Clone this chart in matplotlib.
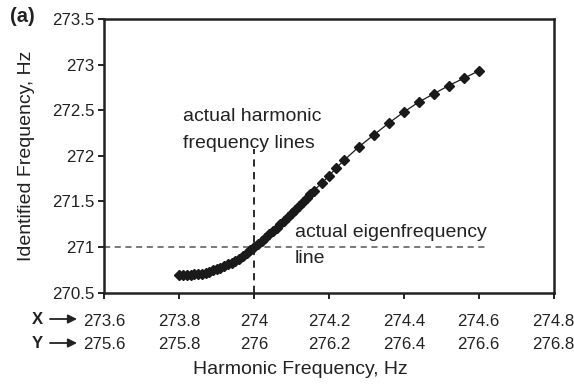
import matplotlib
matplotlib.use("Agg")
import matplotlib.pyplot as plt

plt.rcParams["font.family"] = ["Liberation Sans", "DejaVu Sans"]

# harmonic frequency (x) vs identified frequency
harmonic = [
    273.80, 273.81, 273.82, 273.83, 273.84, 273.85, 273.86, 273.87, 273.88, 273.89,
    273.90, 273.91, 273.92, 273.93, 273.94, 273.95, 273.96, 273.97, 273.98, 273.99,
    274.00, 274.01, 274.02, 274.03, 274.04, 274.05, 274.06, 274.07, 274.08, 274.09,
    274.10, 274.11, 274.12, 274.13, 274.14, 274.15, 274.16,
    274.18, 274.20, 274.22, 274.24,
    274.28, 274.32, 274.36, 274.40, 274.44, 274.48, 274.52, 274.56, 274.60,
]
identified = [
    270.69, 270.69, 270.69, 270.69, 270.70, 270.70, 270.71, 270.72, 270.73, 270.745,
    270.76, 270.775, 270.79, 270.81, 270.83, 270.85, 270.87, 270.90, 270.93, 270.965,
    271.00, 271.035, 271.07, 271.105, 271.14, 271.175, 271.21, 271.25, 271.29, 271.33,
    271.37, 271.41, 271.45, 271.495, 271.54, 271.58, 271.62,
    271.70, 271.78, 271.87, 271.95,
    272.10, 272.23, 272.36, 272.48, 272.59, 272.68, 272.77, 272.85, 272.93,
]

x_ticks = [273.6, 273.8, 274.0, 274.2, 274.4, 274.6, 274.8]
x_labels = ["273.6", "273.8", "274", "274.2", "274.4", "274.6", "274.8"]
y_labels_second = ["275.6", "275.8", "276", "276.2", "276.4", "276.6", "276.8"]
y_ticks = [270.5, 271, 271.5, 272, 272.5, 273, 273.5]
y_ticklabels = ["270.5", "271", "271.5", "272", "272.5", "273", "273.5"]

harmonic_line = 274.0
eigen_line = 271.0

fig = plt.figure(figsize=(5.74, 3.86), dpi=100)
ax = fig.add_axes([0.182, 0.2417, 0.7823, 0.7091])

ax.plot(harmonic, identified, color="#1a1a1a", lw=0.9, marker="D",
        markersize=5.5, markerfacecolor="#1a1a1a", markeredgecolor="#1a1a1a", zorder=3)

# reference lines
ax.plot([harmonic_line, harmonic_line], [270.5, 272.07], color="#1a1a1a",
        lw=1.3, ls=(0, (4, 3)), zorder=2)
ax.plot([273.6, 274.626], [eigen_line, eigen_line], color="#555555",
        lw=1.1, ls=(0, (4, 3)), zorder=2)

ax.text(273.809, 272.43, "actual harmonic", fontsize=14, color="#222222", va="center")
ax.text(273.809, 272.14, "frequency lines", fontsize=14, color="#222222", va="center")
ax.text(274.108, 271.16, "actual eigenfrequency", fontsize=14, color="#222222", va="center")
ax.text(274.108, 270.87, "line", fontsize=14, color="#222222", va="center")

ax.set_xlim(273.6, 274.8)
ax.set_ylim(270.5, 273.5)
ax.set_xticks(x_ticks)
ax.set_xticklabels([f"{a}\n{b}" for a, b in zip(x_labels, y_labels_second)],
                   linespacing=1.7)
ax.set_yticks(y_ticks)
ax.set_yticklabels(y_ticklabels)
ax.tick_params(direction="out", length=4, width=1.4, colors="#222222",
               labelsize=12.2, labelcolor="#222222", pad=3)
ax.tick_params(axis="x", pad=11)

for s in ax.spines.values():
    s.set_linewidth(1.8)
    s.set_color("#222222")

fig.text(27 / 574, 1 - 156 / 386, "Identified Frequency, Hz", fontsize=14,
         color="#222222", ha="center", va="center", rotation=90)
fig.text(300 / 574, 1 - 370 / 386, "Harmonic Frequency, Hz", fontsize=14,
         color="#222222", ha="center", va="center")

# row markers for the two harmonic scales
for label, ypix in [("X", 319), ("Y", 343)]:
    yf = 1 - ypix / 386
    fig.text(37 / 574, yf, label, fontsize=12, fontweight="bold",
             color="#222222", ha="center", va="center")
    ax.annotate("", xy=(77 / 574, yf), xytext=(50 / 574, yf),
                xycoords="figure fraction", textcoords="figure fraction",
                arrowprops=dict(arrowstyle="-|>", color="#222222", lw=1.3,
                                mutation_scale=13, shrinkA=0, shrinkB=0))

fig.text(22 / 574, 1 - 16 / 386, "(a)", fontsize=14.5, fontweight="bold",
         color="#222222", ha="center", va="center")

fig.savefig("out.png", dpi=100)
